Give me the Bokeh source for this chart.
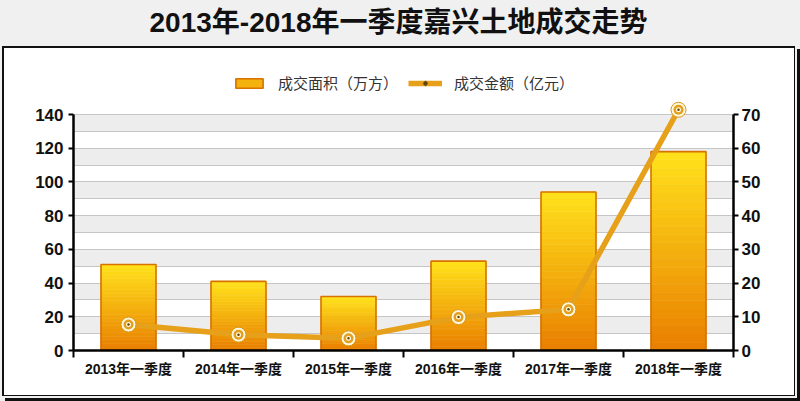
from bokeh.plotting import figure
from bokeh.models import (Range1d, LinearAxis, FixedTicker, SingleIntervalTicker,
                          Legend, LegendItem, Label)
from bokeh.embed import file_html
from bokeh.resources import INLINE

# ---- data ----
categories = ["2013年一季度", "2014年一季度", "2015年一季度",
              "2016年一季度", "2017年一季度", "2018年一季度"]
area = [51, 41, 32, 53, 94, 118]          # 成交面积（万方）
amount = [7.7, 4.7, 3.6, 9.9, 12.2, 71.4]  # 成交金额（亿元）
left_ticks = [0, 20, 40, 60, 80, 100, 120, 140]
right_ticks = [0, 10, 20, 30, 40, 50, 60, 70]
title_text = "2013年-2018年一季度嘉兴土地成交走势"
series_names = ["成交面积（万方）", "成交金额（亿元）"]

FONT = "'Liberation Sans', 'Noto Sans CJK SC', sans-serif"

xs = [i + 0.5 for i in range(len(categories))]

# frame spans the whole upper part of the canvas so that title and legend live inside it;
# the axes are bounded to 0..140 / 0..70 (140 sits 236px above the baseline)
FH = 350
top_left = 140 * FH / 236.0
p = figure(output_backend="svg", toolbar_location=None, title=None,
           frame_width=660, frame_height=FH,
           min_border_left=73, min_border_right=67,
           min_border_top=0, min_border_bottom=51,
           x_range=Range1d(0, len(categories)), y_range=Range1d(0, top_left))
p.border_fill_alpha = 0
p.background_fill_alpha = 0
p.outline_line_color = None
p.extra_y_ranges = {"right": Range1d(0, top_left / 2)}

# page frame: grey title band, white box with black border (CSS behind the transparent canvas)
K = "linear-gradient(#111,#111)"
p.styles = {"background": ", ".join([
    K + " 2px 46px / 793px 2px no-repeat",
    K + " 2px 46px / 2px 350px no-repeat",
    K + " 794px 46px / 1px 350px no-repeat",
    K + " 2px 395px / 793px 1px no-repeat",
    K + " 797px 49px / 3px 352px no-repeat",
    K + " 5px 398px / 795px 3px no-repeat",
    "linear-gradient(#fff,#fff) 4px 48px / 790px 347px no-repeat",
    "#f0f0f0",
])}

# grid
p.xgrid.visible = False
p.ygrid.ticker = SingleIntervalTicker(interval=10)
p.ygrid.bounds = (0, 140)
p.ygrid.grid_line_color = "#c6c6c6"
p.ygrid.grid_line_width = 1
p.ygrid.band_fill_color = "#ededed"
p.ygrid.band_fill_alpha = 1.0

# bars with vertical gradient made of slices
N = 24
bot_c = (0xE9, 0x7E, 0x00)
top_c = (0xFF, 0xE2, 0x1C)
slice_renderers = []
for k in range(N):
    t = (k + 0.5) / N
    col = "#%02x%02x%02x" % tuple(int(round(b + (a - b) * t)) for a, b in zip(top_c, bot_c))
    r = p.vbar(x=xs, bottom=[v * k / N for v in area], top=[v * (k + 1) / N for v in area],
               width=0.5, fill_color=col, line_color=col, line_width=0.6)
    slice_renderers.append(r)
outline = p.vbar(x=xs, top=area, width=0.5, fill_color=None,
                 line_color="#d87200", line_width=1.6)

# line + markers on right axis
line_r = p.line(xs, amount, y_range_name="right", line_color="#e6a019",
                line_width=5.5, line_join="round")
m1 = p.scatter(xs, amount, y_range_name="right", marker="circle", size=15,
               fill_color="#fff8dc", line_color="#d8961a", line_width=1)
m2 = p.scatter(xs, amount, y_range_name="right", marker="circle", size=10,
               fill_color="#e3a020", line_color=None)
m3 = p.scatter(xs, amount, y_range_name="right", marker="circle", size=5,
               fill_color="#fffbe0", line_color=None)
m4 = p.scatter(xs, amount, y_range_name="right", marker="circle", size=2.5,
               fill_color="#6a4200", line_color=None)

# axes
xa = p.xaxis[0]
xa.ticker = FixedTicker(ticks=xs, minor_ticks=list(range(0, len(categories) + 1)))
xa.major_label_overrides = {x: c for x, c in zip(xs, categories)}
xa.major_tick_line_color = None
xa.major_tick_in = 0
xa.major_tick_out = 0
xa.minor_tick_in = 0
xa.minor_tick_out = 7
xa.minor_tick_line_width = 2
xa.minor_tick_line_color = "black"
xa.axis_line_width = 2.5
xa.axis_line_color = "black"
xa.major_label_text_font = FONT
xa.major_label_text_font_size = "14px"
xa.major_label_text_font_style = "bold"
xa.major_label_text_color = "#111111"
xa.major_label_standoff = 3

ya = p.yaxis[0]
ya.ticker = FixedTicker(ticks=left_ticks)
ya.bounds = (0, 140)
ry = LinearAxis(y_range_name="right", ticker=FixedTicker(ticks=right_ticks), bounds=(0, 70))
p.add_layout(ry, "right")
for a in (ya, ry):
    a.axis_line_width = 2.5
    a.axis_line_color = "black"
    a.major_tick_in = 0
    a.major_tick_out = 5
    a.major_tick_line_width = 2
    a.major_tick_line_color = "black"
    a.minor_tick_line_color = None
    a.major_label_text_font = FONT
    a.major_label_text_font_size = "17px"
    a.major_label_text_font_style = "bold"
    a.major_label_text_color = "#111111"
ya.major_label_standoff = 5
ry.major_label_standoff = 3

# title (inside the tall frame, near its top)
title = Label(x=(398 - 73) / 110.0, y=(FH - 22) * 140 / 236.0, text=title_text,
              text_align="center", text_baseline="middle",
              text_font=FONT, text_font_size="28px", text_font_style="bold",
              text_color="#111111")
p.add_layout(title)

# legend
legend = Legend(items=[
    LegendItem(label=series_names[0], renderers=[slice_renderers[N // 2], outline]),
    LegendItem(label=series_names[1], renderers=[line_r, m1, m2, m3, m4]),
], location="top_center", orientation="horizontal")
legend.background_fill_alpha = 0
legend.border_line_color = None
legend.label_text_font = FONT
legend.label_text_font_size = "15px"
legend.label_text_color = "#333333"
legend.glyph_width = 34
legend.glyph_height = 12
legend.label_standoff = 12
legend.spacing = 10
legend.padding = 0
legend.margin = 72
p.add_layout(legend)

open("out.html", "w").write(file_html(p, INLINE))
